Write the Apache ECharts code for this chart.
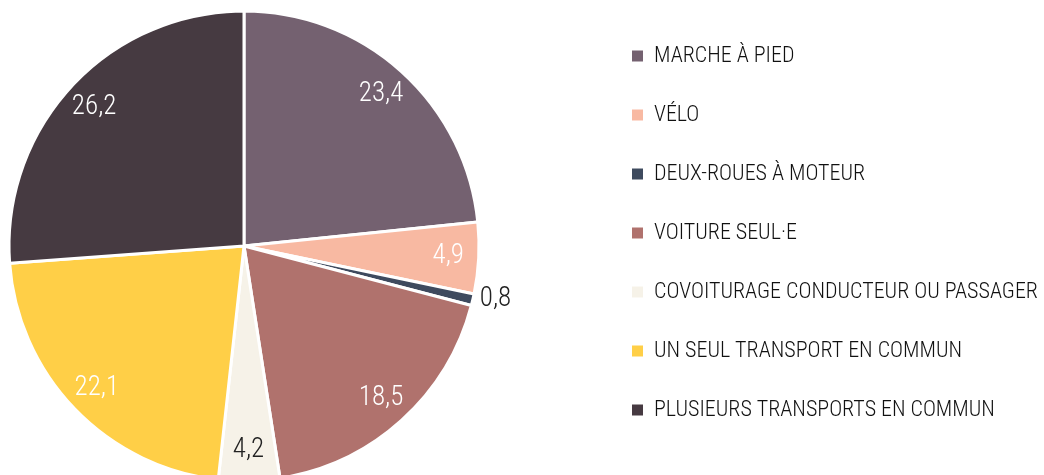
<!DOCTYPE html>
<html>
<head>
<meta charset="utf-8">
<script src="https://cdn.jsdelivr.net/npm/echarts@6/dist/echarts.min.js"></script>
<style>
  html, body { margin: 0; padding: 0; background: #fff; }
  #chart { width: 1044px; height: 475px; }
</style>
</head>
<body>
<div id="chart"></div>
<script>
// modes de transport (part en %)
const categories = [
  'MARCHE À PIED',
  'VÉLO',
  'DEUX-ROUES À MOTEUR',
  'VOITURE SEUL·E',
  'COVOITURAGE CONDUCTEUR OU PASSAGER',
  'UN SEUL TRANSPORT EN COMMUN',
  'PLUSIEURS TRANSPORTS EN COMMUN'
];
const values = [23.4, 4.9, 0.8, 18.5, 4.2, 22.1, 26.2];
const colors = ['#746170', '#f8b9a2', '#3e4a5e', '#b0726d', '#f6f2e8', '#ffcf47', '#463a41'];
const labelColors = ['#fff', '#fff', '#222', '#fff', '#222', '#fff', '#fff'];

const FONT = "'Roboto Condensed', 'Liberation Sans Narrow', 'DejaVu Sans Condensed', sans-serif";
const center = [244, 246];

const chart = echarts.init(document.getElementById('chart'));

const pieData = categories.map((name, i) => ({
  name: name,
  value: values[i],
  itemStyle: { color: colors[i] }
}));

// série transparente qui ne sert qu'à placer les étiquettes près du bord
const labelData = categories.map((name, i) => ({
  name: name,
  value: values[i],
  label: {
    color: labelColors[i],
    position: values[i] < 1 ? 'outside' : 'inside'
  }
}));

chart.setOption({
  animation: false,
  legend: {
    orient: 'vertical',
    left: 625,
    top: 38,
    itemWidth: 13,
    itemHeight: 13,
    itemGap: 33,
    icon: 'rect',
    data: categories,
    textStyle: {
      fontFamily: FONT,
      fontSize: 22,
      fontWeight: 300,
      color: '#111',
      lineHeight: 26,
      padding: [0, 0, 0, 5]
    }
  },
  series: [
    {
      type: 'pie',
      center: center,
      radius: 235,
      startAngle: 90,
      clockwise: true,
      label: { show: false },
      labelLine: { show: false },
      itemStyle: { borderColor: '#fff', borderWidth: 3 },
      emphasis: { disabled: true },
      data: pieData
    },
    {
      type: 'pie',
      center: center,
      radius: [168, 235],
      startAngle: 90,
      clockwise: true,
      silent: true,
      itemStyle: { color: 'rgba(0,0,0,0)' },
      label: {
        show: true,
        formatter: p => String(p.value).replace('.', ','),
        fontFamily: FONT,
        fontSize: 27,
        fontWeight: 300
      },
      labelLine: { show: false, length: 0, length2: 2 },
      data: labelData
    }
  ]
});
</script>
</body>
</html>
